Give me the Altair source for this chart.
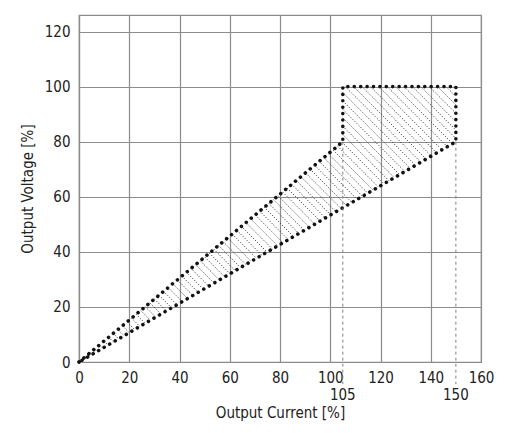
import altair as alt
import pandas as pd
import numpy as np

# ---- data ----
x_ticks = [0, 20, 40, 60, 80, 100, 120, 140, 160]
y_ticks = [0, 20, 40, 60, 80, 100, 120]
region_x = [0, 105, 105, 150, 150, 0]
region_y = [0, 80, 100, 100, 80, 0]
marker_x = [105, 150]
marker_top = [80, 80]
marker_bottom = [-8, -8]
marker_labels = ["105", "150"]
x_title = "Output Current [%]"
y_title = "Output Voltage [%]"

X_DOM = [0, 160]
Y_DOM = [0, 126]
W, H = 402, 347
FONT = "DejaVu Sans Condensed, Liberation Sans Narrow, sans-serif"
FS = 15

border = pd.DataFrame({"x": region_x, "y": region_y, "o": list(range(len(region_x)))})
markers = pd.DataFrame({"x": marker_x, "top": marker_top, "bot": marker_bottom, "lab": marker_labels})

# ---- hatch lines clipped to the region polygon (45 deg in screen space) ----
sx = W / (X_DOM[1] - X_DOM[0])
sy = H / (Y_DOM[1] - Y_DOM[0])
poly = list(zip(region_x[:-1], region_y[:-1]))
edges = [(poly[i], poly[(i + 1) % len(poly)]) for i in range(len(poly))]
cmax = max(px * sx + py * sy for px, py in poly)
segs = []
c = 4.0
while c < cmax:
    pts = []
    for (x1, y1), (x2, y2) in edges:
        f1 = x1 * sx + y1 * sy - c
        f2 = x2 * sx + y2 * sy - c
        if (f1 < 0 <= f2) or (f2 < 0 <= f1):
            t = f1 / (f1 - f2)
            pts.append((x1 + t * (x2 - x1), y1 + t * (y2 - y1)))
    pts.sort()
    for i in range(0, len(pts) - 1, 2):
        segs.append({"x": pts[i][0], "y": pts[i][1], "x2": pts[i + 1][0], "y2": pts[i + 1][1]})
    c += 8.4
hatch = pd.DataFrame(segs)

xs = alt.Scale(domain=X_DOM, nice=False, zero=False)
ys = alt.Scale(domain=Y_DOM, nice=False, zero=False)

border_layer = alt.Chart(border).mark_line(
    color="#111111", strokeWidth=3.6, strokeDash=[0.01, 6.4], strokeCap="round"
).encode(
    x=alt.X("x:Q", scale=xs, axis=alt.Axis(values=x_ticks, title=x_title)),
    y=alt.Y("y:Q", scale=ys, axis=alt.Axis(values=y_ticks, title=y_title)),
    order="o:Q",
)

hatch_layer = alt.Chart(hatch).mark_rule(
    color="#3a3a3a", strokeWidth=1, strokeDash=[1.1, 1.7]
).encode(
    x=alt.X("x:Q", scale=xs),
    y=alt.Y("y:Q", scale=ys),
    x2="x2:Q",
    y2="y2:Q",
)

marker_layer = alt.Chart(markers).mark_rule(
    color="#808080", strokeWidth=1, strokeDash=[3, 3]
).encode(
    x=alt.X("x:Q", scale=xs),
    y=alt.Y("top:Q", scale=ys),
    y2="bot:Q",
)

label_layer = alt.Chart(markers).mark_text(
    font=FONT, fontSize=FS, color="#222222", baseline="middle", dy=33
).encode(
    x=alt.X("x:Q", scale=xs),
    y=alt.value(H),
    text="lab:N",
)

chart = alt.layer(border_layer, hatch_layer, marker_layer, label_layer).properties(
    width=W,
    height=H,
    autosize=alt.AutoSizeParams(type="none"),
    padding={"left": 71, "top": 7, "right": 30, "bottom": 70},
).configure_view(
    stroke="#8c8c8c", strokeWidth=1.2
).configure_axis(
    grid=True,
    gridColor="#8c8c8c",
    gridWidth=1.2,
    gridOpacity=1,
    domainColor="#8c8c8c",
    domainWidth=1.2,
    ticks=False,
    labelFlush=False,
    labelFont=FONT,
    labelFontSize=FS,
    labelColor="#222222",
    titleFont=FONT,
    titleFontSize=FS,
    titleFontWeight="normal",
    titleColor="#222222",
).configure_axisX(
    labelPadding=8,
    titlePadding=20,
).configure_axisY(
    labelPadding=9,
    titlePadding=9,
)

chart.save("out.html", embed_options={"renderer": "svg", "actions": False})
